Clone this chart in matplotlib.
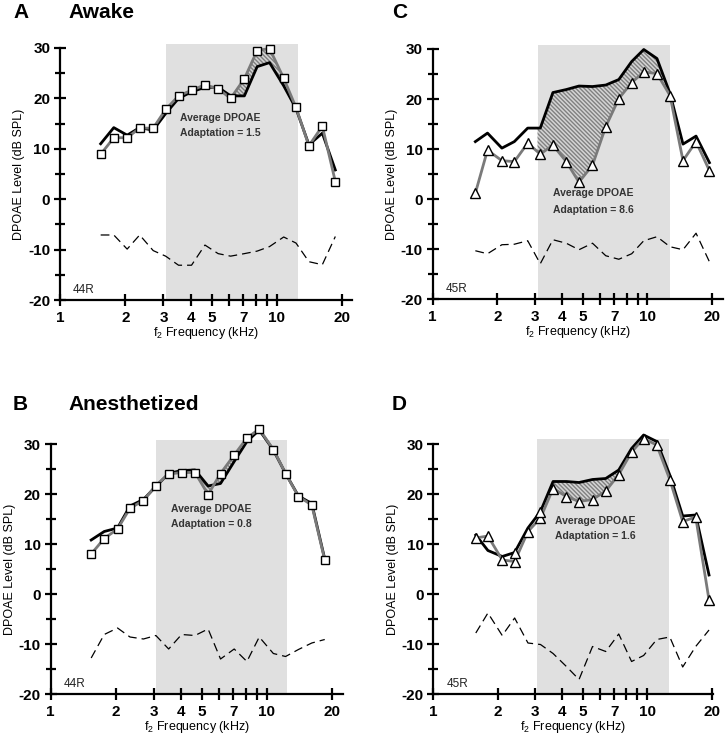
import numpy as np
import matplotlib
matplotlib.use('Agg')
import matplotlib.pyplot as plt
from matplotlib.ticker import NullLocator

plt.rcParams['font.family'] = ['Liberation Sans', 'DejaVu Sans']
plt.rcParams['mathtext.fontset'] = 'custom'
plt.rcParams['mathtext.rm'] = 'Liberation Sans'
plt.rcParams['mathtext.default'] = 'regular'
plt.rcParams['axes.unicode_minus'] = False
plt.rcParams['hatch.linewidth'] = 1.0

# f2 frequencies (kHz) for the two ears
f_44R = [1.54, 1.77, 2.04, 2.33, 2.69, 3.07, 3.52, 4.04, 4.66, 5.36,
         6.12, 7.08, 8.11, 9.25, 10.75, 12.25, 14.05, 16.2, 18.6]
f_45R = [1.58, 1.80, 2.10, 2.40, 2.77, 3.17, 3.63, 4.19, 4.80, 5.55,
         6.40, 7.36, 8.45, 9.62, 11.08, 12.75, 14.65, 16.85, 19.45]

# A - awake, 44R
a_black = [11.0, 14.2, 12.7, 14.2, 13.7, 17.0, 20.0, 21.3, 22.2, 22.2,
           20.5, 20.5, 26.3, 27.1, 22.5, 18.0, 10.8, 13.1, 5.8]
a_gray = [8.9, 12.2, 12.2, 14.1, 14.1, 17.8, 20.5, 21.6, 22.7, 21.9,
          20.0, 23.9, 29.5, 29.9, 24.0, 18.2, 10.6, 14.5, 3.5]
a_noise = [-7.1, -7.1, -9.9, -7.1, -10.2, -11.3, -13.1, -13.1, -9.1, -10.8,
           -11.3, -10.8, -10.3, -9.4, -7.5, -8.7, -12.4, -13.0, -7.4]

# B - anesthetized, 44R
b_black = [10.8, 12.5, 13.2, 17.6, 18.9, 21.5, 24.1, 24.7, 24.8, 21.6,
           22.1, 26.5, 30.5, 32.8, 28.8, 24.1, 19.6, 18.1, 7.0]
b_gray = [8.0, 11.1, 13.0, 17.15, 18.7, 21.7, 24.0, 24.3, 24.3, 19.9,
          24.1, 27.8, 31.2, 33.0, 28.9, 24.1, 19.5, 17.8, 6.8]
b_noise = [-12.8, -8.1, -6.8, -8.6, -9.0, -8.3, -11.0, -8.1, -8.3, -7.0,
           -13.0, -11.0, -13.5, -8.6, -11.9, -12.5, -11.1, -9.8, -9.1]

# C - awake, 45R
c_black = [11.5, 13.2, 10.2, 11.5, 14.2, 14.2, 21.3, 21.9, 22.6, 22.5,
           22.8, 23.9, 27.5, 29.9, 28.1, 21.1, 11.0, 12.6, 7.3]
c_gray = [1.2, 9.8, 7.7, 7.5, 11.2, 9.0, 10.8, 7.5, 3.4, 6.8,
          14.5, 20.1, 23.3, 25.4, 25.1, 20.7, 7.7, 11.5, 5.7]
c_noise = [-10.3, -10.9, -9.1, -9.0, -8.3, -12.9, -8.1, -8.8, -10.1, -8.8,
           -11.3, -12.0, -10.9, -8.3, -7.5, -9.5, -10.1, -6.8, -12.5]

# D - anesthetized, 45R
d_black = [11.8, 8.7, 7.5, 8.3, 13.2, 16.5, 22.5, 22.5, 22.3, 22.9,
           23.1, 24.8, 29.1, 31.8, 30.5, 23.8, 15.6, 15.8, 3.8]
d_gray = [11.2, 11.6, 6.8, 6.5, 12.5, 15.2, 21.1, 19.5, 18.5, 18.9,
          20.6, 23.9, 28.4, 31.1, 29.8, 22.9, 14.5, 15.4, -1.2]
d_noise = [-7.8, -3.8, -8.3, -4.8, -9.8, -10.1, -11.9, -14.5, -17.1, -10.5,
           -11.5, -8.0, -13.5, -12.3, -9.1, -8.6, -14.6, -10.5, -7.2]

panels = [
    # letter, title, rect(px), xmax, freqs, black, gray, noise, marker, band, ear, adapt, text line centres
    ('A', 'Awake', [60, 300, 292, 252], 22.2, f_44R, a_black, a_gray, a_noise, 's',
     (3.07, 12.45, 30.7), '44R', '1.5', (3.59, 16.1, 13.2)),
    ('B', 'Anesthetized', [50.7, 694, 292.3, 250], 22.6, f_44R, b_black, b_gray, b_noise, 's',
     (3.07, 12.5, 30.8), '44R', '0.8', (3.59, 17.0, 14.0)),
    ('C', '', [432.7, 299.3, 290.3, 250.3], 22.5, f_45R, c_black, c_gray, c_noise, '^',
     (3.08, 12.8, 30.8), '45R', '8.6', (3.62, 1.2, -2.2)),
    ('D', '', [433.3, 694, 279.7, 250], 20.3, f_45R, d_black, d_gray, d_noise, '^',
     (3.04, 12.7, 31.1), '45R', '1.6', (3.72, 14.5, 11.6)),
]

W, H = 726, 738
fig = plt.figure(figsize=(W / 100, H / 100), dpi=100)

for (letter, title, rect, xmax, f, blk, gry, noise, mk, band, ear, adapt, tpos) in panels:
    l, b, w, h = rect
    ax = fig.add_axes([l / W, 1 - b / H, w / W, h / H])
    ax.set_xscale('log')
    ax.set_xlim(1, xmax)
    ax.set_ylim(-20, 30)

    f = np.array(f)
    blk = np.array(blk)
    gry = np.array(gry)

    # shaded frequency band
    ax.fill_between([band[0], band[1]], -20, band[2], color='#e0e0e0',
                    lw=0, zorder=0, clip_on=False)

    # hatched difference inside the band
    lf = np.log10(f)
    inside = (f > band[0]) & (f < band[1])
    xs = np.concatenate([[band[0]], f[inside], [band[1]]])
    yb = np.interp(np.log10(xs), lf, blk)
    yg = np.interp(np.log10(xs), lf, gry)
    ax.fill_between(xs, yb, yg, facecolor='#d4d4d4', edgecolor='#808080',
                    hatch='\\' * 8, lw=0, zorder=1)

    ax.plot(f, noise, color='black', lw=0.9, dashes=(7, 4), zorder=2)
    ax.plot(f, blk, color='black', lw=2.0, zorder=3, clip_on=False)
    ax.plot(f, gry, color='#7a7a7a', lw=2.0, marker=mk, ms=6.5 if mk == '^' else 5.5,
            mfc='white', mec='black', mew=1.0, zorder=4, clip_on=False)
    if letter == 'D':
        ax.plot(f[[3, 5]], blk[[3, 5]], ls='none', marker=mk, ms=6.5,
                mfc='white', mec='black', mew=1.0, zorder=4)

    ax.text(tpos[0], tpos[1], 'Average DPOAE', fontsize=7.5, fontweight='bold',
            color='#333333', ha='left', va='center')
    ax.text(tpos[0], tpos[2], 'Adaptation = ' + adapt, fontsize=7.5,
            fontweight='bold', color='#333333', ha='left', va='center')
    ax.text(1.15, -18, ear, fontsize=8.5, color='#222222', ha='left', va='center')

    for s in ['top', 'right']:
        ax.spines[s].set_visible(False)
    for s in ['left', 'bottom']:
        ax.spines[s].set_linewidth(1.6)

    ax.set_xticks([1, 2, 3, 4, 5, 6, 7, 8, 9, 10, 20])
    ax.set_xticklabels(['1', '2', '3', '4', '5', '', '7', '', '', '10', '20'])
    ax.xaxis.set_minor_locator(NullLocator())
    ax.set_yticks([-20, -10, 0, 10, 20, 30])
    ax.set_yticks([-15, -5, 5, 15, 25], minor=True)
    ax.tick_params(which='major', direction='inout', length=8, width=1.6,
                   labelsize=11)
    ax.tick_params(axis='y', which='major', pad=3)
    ax.tick_params(axis='x', which='major', pad=4)
    ax.tick_params(which='minor', direction='inout', length=7, width=1.6)
    for t in ax.get_xticklabels() + ax.get_yticklabels():
        t.set_fontweight('bold')

    ax.set_xlabel('f$_{2}$ Frequency (kHz)', fontsize=9, labelpad=0)
    ax.set_ylabel('DPOAE Level (dB SPL)', fontsize=9, labelpad=2)

    lx = 13 if letter in 'AB' else 392
    ly = 12 if letter in 'AC' else 404
    fig.text(lx / W, 1 - ly / H, letter, fontsize=15, fontweight='bold',
             ha='left', va='center')
    if title:
        fig.text(68 / W, 1 - ly / H, title, fontsize=15, fontweight='bold',
                 ha='left', va='center')

fig.savefig('out.png', dpi=100)
